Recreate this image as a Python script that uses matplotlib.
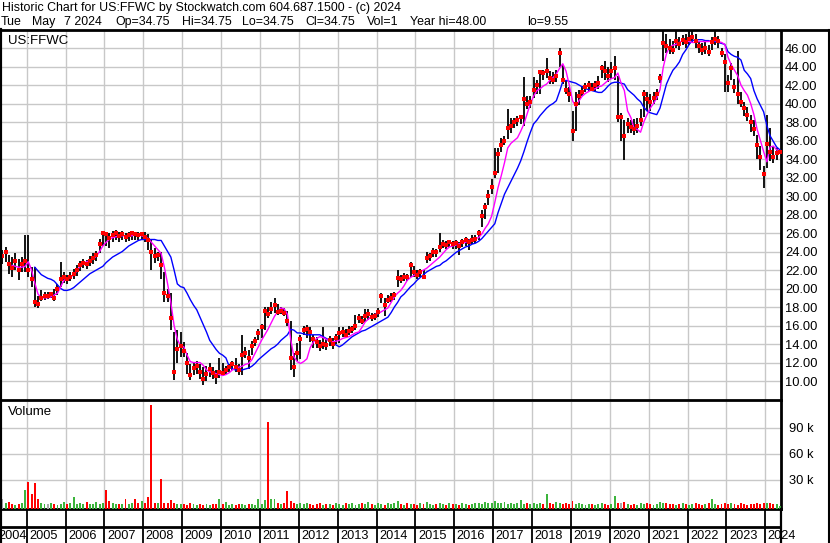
import numpy as np
import pandas as pd
import matplotlib
matplotlib.use('Agg')
import matplotlib.pyplot as plt
from matplotlib.lines import Line2D

plt.rcParams['font.family'] = ['Liberation Sans', 'DejaVu Sans']

nan = np.nan

# monthly bars, May 2004 .. May 2024
close = [
    23.5, 23.9, 22.6, 22.2, 23.0, 22.0, 22.6, 23.0,
    22.0, 21.0, 18.5, 18.3, 19.0, 19.2, 19.2, 19.4, 19.0, 20.0, 21.0, 21.3,
    21.0, 21.3, 21.6, 22.0, 22.5, 22.8, 22.7, 23.0, 23.3, 23.6, 24.8, 26.0,
    25.9, 25.5, 25.8, 26.0, 25.7, 25.9, 25.6, 25.8, 26.0, 25.9, 25.8, 25.9,
    25.6, 25.2, 24.0, 23.5, 23.6, 22.5, 19.5, 19.2, 16.8, 11.0, 13.5, 13.8,
    13.2, 12.0, 10.6, 11.4, 11.6, 11.0, 10.2, 10.8, 11.3, 10.9, 10.5, 11.0,
    10.9, 11.2, 11.5, 11.8, 11.5, 11.2, 12.8, 13.0, 12.5, 13.8, 14.3, 15.2,
    15.8, 17.6, 17.2, 17.8, 18.2, 17.5, 17.6, 17.4, 16.5, 12.5, 11.5, 13.0,
    14.5, 15.5, 15.6, 15.3, 14.5, 14.2, 13.8, 14.0, 13.9, 14.4, 14.0, 14.6,
    15.2, 15.3, 15.0, 15.4, 15.6, 16.0, 16.8, 16.5, 17.0, 17.2, 16.9, 17.0,
    17.5, 19.2, 18.2, 18.8, 19.0, 19.3, 21.1, 21.0, 21.3, 21.2, 22.5, 21.8,
    21.5, 21.8, 21.3, 23.3, 23.5, 24.0, 23.9, 24.5, 24.8, 24.7, 25.0, 24.8,
    24.9, 24.6, 25.0, 25.2, 25.0, 25.3, 25.4, 26.0, 27.8, 28.8, 30.0, 31.0,
    32.5, 34.5, 35.5, 36.0, 37.4, 37.6, 38.0, 38.2, 38.5, 40.5, 40.0, 40.2,
    41.5, 42.0, 43.4, 43.3, 43.5, 42.8, 42.5, 43.0, 45.5, 42.5, 41.5, 41.0,
    37.0, 40.0, 40.8, 41.2, 41.8, 42.0, 41.6, 42.0, 42.2, 43.8, 43.5, 43.0,
    43.5, 43.8, 38.5, 38.5, 36.5, 37.8, 37.5, 37.2, 37.6, 38.2, 41.0, 40.5,
    40.2, 40.6, 41.0, 42.8, 46.5, 46.2, 46.0, 45.8, 46.8, 46.4, 46.9, 46.6,
    47.0, 47.2, 46.8, 46.2, 45.8, 46.0, 45.6, 46.6, 47.0, 46.8, 45.5, 44.5,
    42.2, 43.8, 41.8, 41.0, 40.2, 39.5, 38.8, 38.0, 37.2, 35.5, 34.2, 32.4,
    35.6, 34.8, 34.2, 34.6, 34.75,
]
high = [
    24.2, 24.5, 23.6, 23.4, 23.8, 23.2, 23.4, 25.8,
    25.8, 22.3, 22.3, 19.2, 19.8, 19.6, 19.6, 19.6, 19.9, 20.5, 22.9, 21.8,
    21.5, 21.8, 22.1, 22.5, 23.0, 23.2, 23.1, 23.5, 23.8, 24.1, 25.4, 26.2,
    26.1, 26.0, 26.2, 26.3, 26.1, 26.2, 26.0, 26.1, 26.2, 26.1, 26.1, 26.1,
    26.1, 25.9, 25.2, 24.4, 24.0, 23.9, 21.8, 20.0, 19.5, 15.3, 15.5, 15.3,
    14.2, 13.0, 11.8, 12.0, 12.2, 11.8, 11.5, 11.6, 11.9, 11.5, 11.2, 12.5,
    11.9, 11.6, 11.8, 12.2, 12.5, 11.8, 15.0, 13.7, 13.4, 14.3, 14.8, 15.6,
    16.2, 18.0, 18.0, 18.5, 19.0, 18.3, 18.0, 17.9, 17.6, 16.5, 13.0, 14.1,
    15.0, 16.0, 16.1, 15.8, 15.0, 14.8, 14.4, 15.8, 14.5, 14.9, 14.6, 15.1,
    15.8, 15.8, 15.6, 15.9, 16.0, 17.1, 17.2, 17.0, 17.8, 17.8, 17.4, 17.4,
    17.9, 19.5, 19.0, 19.3, 19.5, 19.6, 22.0, 21.5, 21.7, 21.6, 22.9, 22.4,
    22.0, 22.1, 22.0, 24.0, 23.8, 24.4, 24.3, 26.0, 25.2, 25.1, 25.3, 25.1,
    25.3, 25.0, 25.4, 25.6, 25.4, 25.8, 25.8, 26.3, 28.5, 29.3, 30.6, 31.8,
    35.2, 35.2, 36.3, 36.5, 39.4, 38.4, 38.4, 38.6, 38.8, 42.9, 40.8, 40.8,
    42.9, 42.5, 43.6, 43.6, 44.9, 43.5, 43.4, 43.6, 46.0, 44.2, 42.5, 41.8,
    39.2, 41.2, 41.5, 41.9, 42.2, 42.4, 42.2, 42.4, 43.0, 44.2, 44.6, 44.0,
    44.5, 45.1, 43.0, 39.0, 38.2, 38.4, 38.2, 38.3, 38.4, 39.4, 41.5, 41.2,
    41.0, 41.2, 41.6, 43.2, 47.8, 47.5, 47.0, 46.8, 47.8, 47.2, 47.4, 47.5,
    47.8, 47.8, 47.5, 46.8, 46.5, 46.6, 46.3, 47.2, 47.8, 47.3, 46.0, 45.4,
    43.1, 44.4, 42.6, 45.7, 41.2, 40.2, 39.6, 38.8, 38.2, 36.6, 35.4, 33.3,
    38.8, 37.4, 35.4, 35.2, 34.75,
]
low = [
    22.6, 22.9, 21.6, 21.3, 22.0, 20.9, 21.8, 21.8,
    21.2, 20.2, 18.0, 17.9, 18.6, 18.8, 18.9, 19.0, 18.7, 19.3, 20.2, 20.6,
    20.5, 20.8, 21.0, 21.4, 21.9, 22.2, 22.1, 22.4, 22.7, 23.0, 23.8, 24.6,
    24.6, 24.4, 25.0, 25.3, 25.0, 25.2, 25.0, 25.1, 25.3, 25.3, 25.2, 25.4,
    25.0, 24.2, 22.0, 22.8, 23.0, 21.0, 18.5, 18.5, 15.5, 10.1, 12.0, 12.6,
    12.6, 10.8, 10.1, 10.6, 10.8, 10.2, 9.55, 10.0, 10.4, 10.2, 9.7, 10.3,
    10.5, 10.8, 11.0, 11.2, 11.0, 10.6, 10.6, 12.5, 11.3, 12.8, 13.8, 14.4,
    14.6, 15.5, 16.8, 17.2, 17.4, 17.1, 17.2, 17.0, 16.0, 11.2, 10.4, 12.2,
    12.4, 15.0, 14.6, 14.2, 13.6, 13.6, 13.3, 13.5, 13.4, 13.8, 13.5, 14.0,
    14.1, 14.8, 14.6, 15.0, 15.2, 15.5, 16.3, 16.2, 16.4, 16.6, 16.5, 16.6,
    16.9, 18.4, 17.0, 18.4, 18.5, 18.8, 20.2, 20.6, 20.8, 20.8, 21.3, 21.2,
    21.0, 21.3, 21.0, 22.8, 23.0, 23.4, 23.4, 24.0, 24.4, 24.3, 24.5, 24.3,
    24.3, 23.6, 24.5, 24.6, 24.2, 24.8, 24.9, 25.2, 26.6, 27.5, 29.0, 30.2,
    32.0, 32.5, 34.8, 35.5, 36.2, 36.8, 37.3, 37.6, 37.8, 37.6, 39.4, 39.5,
    40.6, 41.0, 41.0, 42.5, 42.8, 42.1, 42.1, 42.3, 43.9, 42.1, 41.0, 40.2,
    36.0, 37.0, 39.8, 40.8, 41.2, 41.4, 41.3, 41.4, 41.6, 42.8, 42.5, 42.3,
    42.6, 42.5, 38.0, 36.0, 33.9, 36.8, 36.8, 36.6, 36.8, 37.6, 38.5, 39.2,
    39.2, 40.0, 40.4, 42.2, 44.6, 45.5, 45.4, 45.3, 46.0, 45.8, 46.3, 46.0,
    46.3, 46.5, 46.0, 45.5, 45.2, 45.4, 45.1, 45.8, 46.3, 46.0, 45.0, 41.2,
    41.2, 42.5, 41.1, 40.0, 39.6, 38.6, 38.1, 36.9, 36.5, 34.0, 32.8, 30.9,
    33.0, 33.8, 33.6, 33.9, 34.75,
]
ma_fast = [
    nan, nan, nan, 22.5, 22.4, 22.3, 22.3, 22.4,
    22.9, 22.0, 20.6, 19.4, 19.0, 19.0, 19.0, 19.1, 19.3, 19.5, 20.2, 20.9,
    21.0, 21.2, 21.5, 21.9, 22.4, 22.7, 22.9, 23.0, 23.2, 23.5, 24.0, 24.6,
    25.0, 25.3, 25.5, 25.6, 25.7, 25.7, 25.7, 25.7, 25.7, 25.8, 25.8, 25.7,
    25.6, 25.4, 25.0, 24.6, 24.2, 23.8, 22.3, 20.5, 18.5, 16.0, 14.5, 13.8,
    13.7, 12.8, 12.1, 12.0, 12.0, 12.0, 11.7, 11.2, 11.0, 10.9, 10.8, 10.7,
    10.6, 10.7, 10.9, 11.2, 11.4, 11.5, 11.6, 11.8, 11.9, 12.3, 13.0, 13.7,
    14.4, 15.0, 15.6, 16.3, 17.0, 17.5, 17.9, 17.8, 17.2, 14.5, 12.6, 12.1,
    11.9, 12.1, 12.4, 13.6, 14.2, 14.6, 14.8, 14.7, 14.5, 14.3, 14.25, 14.3,
    14.4, 14.6, 14.7, 14.8, 15.0, 15.2, 15.3, 15.8, 16.4, 16.7, 17.0, 17.2,
    17.3, 17.5, 17.7, 17.9, 18.5, 19.1, 19.5, 19.8, 20.3, 20.9, 21.2, 21.4,
    21.6, 21.8, 22.0, 22.2, 22.5, 22.8, 23.1, 23.4, 23.8, 24.2, 24.5, 24.6,
    24.7, 24.85, 24.9, 25.0, 25.2, 25.3, 25.4, 25.5, 25.9, 26.5, 27.0, 27.8,
    29.3, 30.9, 32.2, 33.6, 35.2, 35.7, 36.0, 36.3, 37.0, 37.8, 38.9, 40.0,
    40.8, 41.4, 41.6, 41.9, 42.1, 42.5, 42.8, 43.2, 43.8, 44.3, 43.5, 42.0,
    40.3, 39.7, 40.3, 40.8, 41.1, 41.3, 41.5, 41.6, 41.8, 41.9, 42.2, 42.5,
    42.7, 42.8, 43.3, 42.2, 41.4, 39.2, 38.5, 37.3, 37.2, 36.9, 38.0, 38.8,
    39.5, 40.0, 40.6, 41.5, 43.9, 45.4, 46.1, 46.3, 46.4, 46.6, 46.8, 46.8,
    46.7, 46.6, 46.6, 46.7, 46.7, 46.7, 46.7, 46.8, 46.8, 46.7, 46.6, 46.4,
    45.0, 44.2, 43.6, 43.0, 42.0, 41.4, 40.9, 40.0, 38.8, 37.2, 36.0, 34.8,
    33.7, 35.3, 35.4, 35.0, 34.9,
]
ma_slow = [
    nan, nan, nan, nan, nan, nan, nan, nan,
    nan, nan, 22.3, 21.9, 21.5, 21.3, 21.1, 21.0, 20.8, 20.4, 20.0, 19.8,
    19.8, 19.9, 20.1, 20.4, 20.7, 21.0, 21.3, 21.6, 21.8, 22.0, 22.2, 22.4,
    22.8, 23.1, 23.4, 23.6, 23.8, 24.0, 24.3, 24.6, 24.8, 25.0, 25.2, 25.3,
    25.3, 25.3, 25.3, 25.3, 25.2, 25.2, 24.6, 24.0, 23.4, 22.0, 20.5, 20.2,
    20.1, 19.5, 18.8, 18.2, 17.7, 16.9, 16.1, 15.3, 14.4, 13.9, 13.4, 13.0,
    12.8, 12.5, 11.6, 11.3, 11.2, 11.2, 11.2, 11.3, 11.4, 11.6, 11.9, 12.3,
    12.6, 12.9, 13.2, 13.5, 13.7, 14.0, 14.4, 14.7, 15.0, 15.6, 15.5, 15.2,
    15.2, 15.1, 15.0, 15.0, 15.0, 15.0, 15.0, 14.8, 14.6, 14.4, 14.1, 13.9,
    13.7, 13.9, 14.2, 14.5, 14.8, 15.0, 15.2, 15.4, 15.5, 15.7, 15.9, 16.1,
    16.3, 16.5, 16.7, 16.9, 17.4, 18.0, 18.5, 19.1, 19.4, 19.8, 20.2, 20.5,
    20.9, 21.2, 21.5, 21.8, 22.0, 22.2, 22.4, 22.5, 22.8, 23.0, 23.3, 23.6,
    23.9, 24.1, 24.3, 24.5, 24.6, 24.8, 24.9, 25.1, 25.4, 25.8, 26.2, 26.6,
    27.0, 28.2, 29.2, 30.2, 30.9, 31.6, 32.3, 33.0, 33.8, 34.8, 35.9, 36.9,
    37.8, 38.2, 38.7, 39.1, 39.5, 39.8, 40.0, 40.3, 41.3, 42.4, 42.5, 42.4,
    42.3, 42.2, 42.0, 41.8, 41.6, 41.5, 41.4, 41.3, 41.2, 41.2, 41.5, 41.9,
    42.2, 42.3, 42.3, 42.2, 42.1, 41.5, 41.2, 40.9, 40.5, 40.2, 39.6, 39.2,
    39.0, 38.9, 38.8, 39.5, 40.8, 42.1, 42.9, 43.6, 44.0, 44.5, 45.3, 45.8,
    46.4, 46.8, 46.9, 46.9, 46.9, 46.8, 46.8, 46.7, 46.7, 46.6, 46.5, 46.4,
    45.6, 45.3, 45.1, 45.0, 44.7, 43.6, 43.2, 42.7, 41.4, 40.5, 39.8, 39.1,
    37.6, 36.5, 35.9, 35.3, 35.0,
]
# volume in thousands of shares
volume_k = [
    8, 4, 5, 2, 1, 2, 3, 18,
    28, 14, 26, 8, 3, 2, 2, 3, 2, 1.5, 2, 5,
    2, 3, 10, 2, 3, 2, 5, 2, 2, 5, 2, 3,
    18, 6, 3, 2, 2, 2, 8, 2, 3, 8, 3, 6,
    3, 10, 116, 4, 3, 31, 3, 4, 7, 3, 2, 2,
    2, 1.5, 3, 2, 1, 2, 1.5, 2, 1, 2, 2, 8,
    2, 5, 1.5, 2, 1, 2, 2, 1, 2, 2, 1.5, 8,
    2, 7, 97, 8, 8, 3, 2, 3, 17, 6, 3, 2,
    3, 2, 4, 2, 1, 2, 3, 1, 2, 2, 1, 3,
    2, 1, 3, 2, 4, 1, 2, 3, 2, 5, 2, 1,
    3, 2, 1, 4, 2, 3, 6, 2, 1, 3, 2, 2,
    1, 3, 2, 5, 2, 1, 2, 4, 2, 1, 3, 2,
    2, 1, 3, 2, 1, 2, 4, 3, 2, 5, 3, 4,
    6, 3, 4, 5, 2, 3, 2, 3, 7, 2, 3, 2,
    4, 2, 3, 2, 14, 3, 2, 5, 3, 2, 3, 2,
    6, 2, 3, 2, 1, 2, 2, 1, 2, 3, 2, 1,
    2, 11, 4, 3, 5, 2, 1, 2, 1, 3, 2, 3,
    2, 1, 2, 5, 4, 3, 2, 2, 1, 2, 3, 2,
    1, 2, 3, 2, 1, 2, 3, 8, 2, 1, 2, 3,
    2, 4, 2, 1, 3, 2, 1, 2, 2, 3, 2, 3,
    4, 3, 2, 2, 0.5,
]
price_ticks = np.arange(10, 47, 2)
vol_ticks = [30000, 60000, 90000]
vol_labels = ['30 k', '60 k', '90 k']
years = list(range(2004, 2025))

header1 = 'Historic Chart for US:FFWC by Stockwatch.com 604.687.1500 - (c) 2024'
header2 = ['Tue', 'May', '7 2024', 'Op=34.75', 'Hi=34.75', 'Lo=34.75',
           'Cl=34.75', 'Vol=1', 'Year hi=48.00', 'lo=9.55']
header2_px = [1, 32, 64, 115, 182, 242, 305, 367, 410, 527]

months = pd.date_range('2004-05-01', '2024-05-01', freq='MS')
t = np.array(months.year + (months.month - 1) / 12 + 1 / 24)
close = np.array(close)
volume = np.array(volume_k) * 1000
chg = np.diff(close, prepend=close[0])
vcol = np.where(chg > 0, '#3cb43c', np.where(chg < 0, '#ff0000', '#a8a8a8'))

W, H = 830, 543
fig = plt.figure(figsize=(W / 100, H / 100), dpi=100)


def fx(px):
    return px / W


def fy(py):
    return 1 - py / H


x0, x1 = 2004.313, 2024.405
grid_kw = dict(color='#c8c8c8', lw=1.0)

# price panel
ax = fig.add_axes([0, fy(400), fx(781), fy(31) - fy(400)])
ax.set_xlim(x0, x1)
ax.set_ylim(7.95, 47.84)
ax.set_yticks(price_ticks)
ax.set_yticklabels([f'{v:.2f}' for v in price_ticks])
ax.set_xticks(years[1:])
ax.set_xticklabels([])
ax.yaxis.tick_right()
ax.tick_params(axis='both', length=0, labelsize=9.3, pad=3)
ax.grid(True, **grid_kw)
ax.set_axisbelow(True)
for s in ['left', 'right', 'bottom']:
    ax.spines[s].set_linewidth(2)
ax.spines['top'].set_visible(False)

ax.vlines(t, low, high, color='black', lw=1.3, zorder=3)
ax.plot(t, ma_slow, color='#0000ff', lw=1.0, zorder=4)
ax.plot(t, ma_fast, color='#ff00ff', lw=1.0, zorder=4)
ax.plot(t, close, 's', color='#ff0000', ms=2.3, mew=0, zorder=5)

# volume panel
vax = fig.add_axes([0, fy(509), fx(781), fy(402) - fy(509)])
vax.set_xlim(x0, x1)
vax.set_ylim(-3500, 120000)
vax.set_yticks(vol_ticks)
vax.set_yticklabels(vol_labels)
vax.set_xticks(years[1:])
vax.set_xticklabels([])
vax.yaxis.tick_right()
vax.tick_params(axis='both', length=0, labelsize=9.3, pad=6)
vax.grid(True, **grid_kw)
vax.set_axisbelow(True)
for s in ['left', 'right', 'bottom']:
    vax.spines[s].set_linewidth(2)
vax.spines['top'].set_visible(False)
vax.bar(t, volume + 3500, bottom=-3500, width=0.05, color=vcol, zorder=3)

# date strip
dax = fig.add_axes([0, 0, fx(781), fy(509)])
dax.set_xlim(x0, x1)
dax.set_ylim(0, 1)
dax.axis('off')
for y in years[1:]:
    dax.axvline(y, color='black', lw=1.3)
dax.axhline(16 / 34, color='black', lw=2)
for y in years:
    if y == 2004:
        dax.text(x0 - 1.5 / 38.87, 0.22, str(y), ha='left', va='center', fontsize=9.2)
    else:
        dax.text(y + 2.5 / 38.87, 0.22, str(y), ha='left', va='center', fontsize=9.2)

# frame lines and texts
fig.add_artist(Line2D([0, 1], [fy(30), fy(30)], color='black', lw=2))
fig.add_artist(Line2D([fx(781), fx(781)], [0, fy(509)], color='black', lw=1.6))
fig.add_artist(Line2D([fx(828.5), fx(828.5)], [0, fy(30)], color='black', lw=1.5))
fig.add_artist(Line2D([0, 0], [0, fy(30)], color='black', lw=3))

fig.text(fx(2), fy(8), header1, ha='left', va='center', fontsize=8.9)
for txt, px in zip(header2, header2_px):
    fig.text(fx(px), fy(22), txt, ha='left', va='center', fontsize=8.9)
fig.text(fx(8), fy(35), 'US:FFWC', ha='left', va='top', fontsize=9.5)
fig.text(fx(8), fy(406), 'Volume', ha='left', va='top', fontsize=9.5)

fig.savefig('out.png', dpi=100)
